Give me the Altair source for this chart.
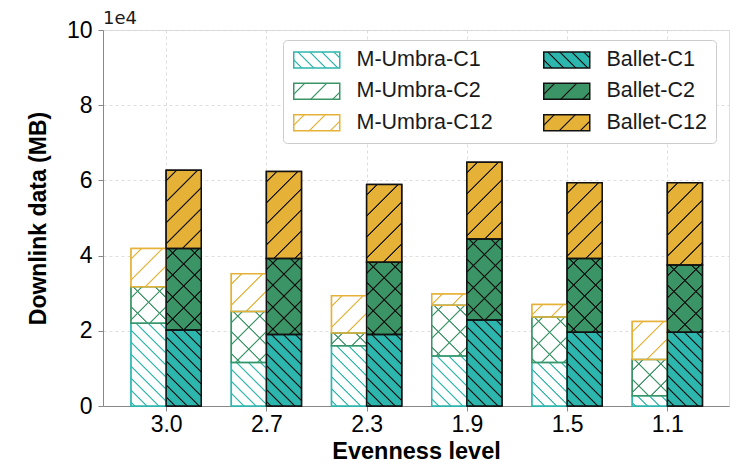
import json
import altair as alt
import pandas as pd

# ---------------- data ----------------
levels = ["3.0", "2.7", "2.3", "1.9", "1.5", "1.1"]
systems = ["M-Umbra", "Ballet"]
components = ["C1", "C2", "C12"]

mumbra_c1 = [22000, 11600, 16000, 13300, 11600, 2700]
mumbra_c2 = [9700, 13500, 3400, 13500, 12100, 9700]
mumbra_c12 = [10200, 10100, 9900, 3000, 3300, 10100]
ballet_c1 = [20200, 19000, 19000, 22900, 19600, 19600]
ballet_c2 = [21700, 20200, 19200, 21500, 19600, 17900]
ballet_c12 = [20800, 23200, 20700, 20400, 20200, 21900]

series_values = {
    ("M-Umbra", "C1"): mumbra_c1,
    ("M-Umbra", "C2"): mumbra_c2,
    ("M-Umbra", "C12"): mumbra_c12,
    ("Ballet", "C1"): ballet_c1,
    ("Ballet", "C2"): ballet_c2,
    ("Ballet", "C12"): ballet_c12,
}

rows = []
for i, lv in enumerate(levels):
    for s in systems:
        for k, c in enumerate(components):
            rows.append({"idx": i, "level": lv, "system": s, "comp": c, "order": k,
                         "series": f"{s}-{c}", "value": series_values[(s, c)][i]})
df = pd.DataFrame(rows)

# ---------------- style / layout ----------------
colors = {"C1": "#2db6ad", "C2": "#3b9465", "C12": "#e5b136"}
LINE = "#111111"
TEXT = "#1a1a1a"
PLOT_W, PLOT_H = 626, 376
X_DOMAIN = [-0.63, 5.615]
Y_MAX = 100000
BAR = 0.35
PX_X = PLOT_W / (X_DOMAIN[1] - X_DOMAIN[0])
PX_Y = PLOT_H / Y_MAX
W_BAR = BAR * PX_X
L = 140.0


def transp(hexc):
    r, g, b = int(hexc[1:3], 16), int(hexc[3:5], 16), int(hexc[5:7], 16)
    return f"rgba({r},{g},{b},0)"


def stops(bg, line, S, a=1.3, b=0.35):
    out = [{"offset": 0, "color": bg}]
    c = S / 2.0
    while c + a < L:
        out += [
            {"offset": round((c - a) / L, 5), "color": bg},
            {"offset": round((c - b) / L, 5), "color": line},
            {"offset": round((c + b) / L, 5), "color": line},
            {"offset": round((c + a) / L, 5), "color": bg},
        ]
        c += S
    out.append({"offset": 1, "color": bg})
    return out


def grad_expr(direction, st, wv, hx):
    den = f"({wv:.4f}*{wv:.4f}+{hx}*{hx})"
    dx = f"{wv:.4f}*{L}/{den}"
    dy = f"{hx}*{L}/{den}"
    if direction == "/":
        x1, x2 = "0", dx
    else:
        x1, x2 = "1", f"1-{dx}"
    return ("{'gradient':'linear','x1':" + x1 + ",'y1':0,'x2':" + x2 +
            ",'y2':" + dy + ",'stops':" + json.dumps(st) + "}")


hatch = {
    "M-Umbra-C1": ("\\", 12, "#ffffff", colors["C1"]),
    "M-Umbra-C2": ("/", 22, "#ffffff", colors["C2"]),
    "M-Umbra-C12": ("/", 21, "#ffffff", colors["C12"]),
    "Ballet-C1": ("\\", 12, colors["C1"], LINE),
    "Ballet-C2": ("/", 22, colors["C2"], LINE),
    "Ballet-C12": ("/", 21, colors["C12"], LINE),
}

series_order = [f"{s}-{c}" for s in systems for c in components]


def nested(exprs):
    out = exprs[series_order[-1]]
    for s in reversed(series_order[:-1]):
        out = f"(datum.series === '{s}' ? {exprs[s]} : {out})"
    return out


main_exprs = {s: grad_expr(d, stops(bg, ln, S), W_BAR, "datum.hpx")
              for s, (d, S, bg, ln) in hatch.items()}
cross_exprs = {s: grad_expr("\\", stops(transp(ln), ln, S), W_BAR, "datum.hpx")
               for s, (d, S, bg, ln) in hatch.items()}

edge_expr = ("datum.system === 'Ballet' ? '" + LINE + "' : (datum.comp === 'C1' ? '" +
             colors["C1"] + "' : (datum.comp === 'C2' ? '" + colors["C2"] + "' : '" +
             colors["C12"] + "'))")

# legend: column-major fill -> M-Umbra column, Ballet column
legend_order = series_order
LEG_W, LEG_H = 46, 16
legend_fill_range = []
legend_stroke_range = []
for s in legend_order:
    d, S, bg, ln = hatch[s]
    legend_fill_range.append({"expr": grad_expr(d, stops(bg, ln, S), LEG_W, str(LEG_H))})
    legend_stroke_range.append(LINE if s.startswith("Ballet") else colors[s.split("-")[-1]])

# symbol: size 16 (r=8); path shifted so it spans x in [0, 46] of the entry
leg = alt.Legend(
    title=None, orient="none", legendX=180, legendY=10, columns=2,
    symbolType="M-1.125,-1H4.625V1H-1.125Z", symbolSize=256,
    symbolStrokeWidth=1.5, labelFont="Liberation Sans", labelFontSize=21.5,
    labelColor=TEXT, labelOffset=43, labelLimit=300, columnPadding=47,
    rowPadding=8.5, padding=9, fillColor="white", strokeColor="#cccccc",
    cornerRadius=4,
)

# ---------------- chart ----------------
base = alt.Chart(df).transform_stack(
    stack="value", as_=["y0", "y1"], groupby=["idx", "system"],
    sort=[alt.SortField("order", order="ascending")],
).transform_calculate(
    xs=f"datum.idx + (datum.system === 'Ballet' ? 0 : -{BAR})",
).transform_calculate(
    xe=f"datum.xs + {BAR}",
    hpx=f"(datum.y1 - datum.y0) * {PX_Y}",
)

grid_kw = dict(grid=True, gridColor="#d6d6d6", gridDash=[3, 3], gridWidth=0.8)

x_enc = alt.X(
    "xs:Q",
    scale=alt.Scale(domain=X_DOMAIN, nice=False, zero=False),
    axis=alt.Axis(
        values=list(range(len(levels))),
        labelExpr=json.dumps(levels) + "[datum.value]",
        title="Evenness level", labelPadding=2, titlePadding=3,
        labelFontSize=23, titleFontSize=23.5, **grid_kw,
    ),
)
y_enc = alt.Y(
    "y0:Q",
    scale=alt.Scale(domain=[0, Y_MAX], nice=False),
    axis=alt.Axis(
        values=[0, 20000, 40000, 60000, 80000, 100000],
        labelExpr="format(datum.value / 10000, 'd')",
        title="Downlink data (MB)", labelPadding=6, titlePadding=16,
        labelFontSize=23, titleFontSize=23, **grid_kw,
    ),
)

legend_layer = base.mark_bar(strokeWidth=1.5).encode(
    x=x_enc, x2="xe:Q", y=y_enc, y2="y1:Q",
    fill=alt.Fill("series:N", scale=alt.Scale(domain=legend_order, range=legend_fill_range), legend=leg),
    stroke=alt.Stroke("series:N", scale=alt.Scale(domain=legend_order, range=legend_stroke_range), legend=leg),
)

fill_layer = base.transform_calculate(grad=nested(main_exprs)).mark_bar(strokeWidth=0).encode(
    x=x_enc, x2="xe:Q", y=y_enc, y2="y1:Q",
    fill=alt.Fill("grad:N", scale=None),
)

cross_layer = base.transform_filter("datum.comp === 'C2'").transform_calculate(
    grad2=nested(cross_exprs)
).mark_bar(strokeWidth=0).encode(
    x=x_enc, x2="xe:Q", y=y_enc, y2="y1:Q",
    fill=alt.Fill("grad2:N", scale=None),
)

edge_layer = base.transform_calculate(edge=edge_expr).mark_bar(fillOpacity=0, strokeWidth=1.5).encode(
    x=x_enc, x2="xe:Q", y=y_enc, y2="y1:Q",
    stroke=alt.Stroke("edge:N", scale=None),
)

chart = alt.layer(legend_layer, fill_layer, cross_layer, edge_layer).properties(
    width=PLOT_W, height=PLOT_H,
    padding={"left": 103, "top": 30, "right": 7, "bottom": 58},
    autosize=alt.AutoSizeParams(type="none"),
    title=alt.TitleParams("1e4", anchor="start", frame="group", fontSize=18,
                          font="DejaVu Sans", fontWeight="normal", offset=-9, color=TEXT),
).configure_view(
    stroke=TEXT, strokeWidth=1.5,
).configure_axis(
    domain=False, labelFont="DejaVu Sans", labelColor=TEXT, tickColor=TEXT,
    tickWidth=1.3, tickSize=5, titleFont="DejaVu Sans", titleFontWeight="bold",
    titleColor=TEXT,
).configure(background="white")

chart.save("out.html", embed_options={"renderer": "svg", "actions": False})
